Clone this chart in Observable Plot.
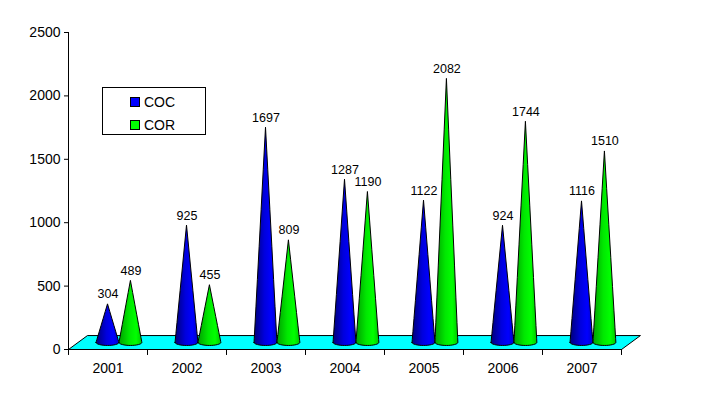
<!DOCTYPE html>
<html>
<head>
<meta charset="utf-8">
<script src="https://cdn.jsdelivr.net/npm/d3@7"></script>
<script src="https://cdn.jsdelivr.net/npm/@observablehq/plot@0.6"></script>
<style>
  html, body { margin: 0; padding: 0; background: #fff; }
  #wrap { position: relative; width: 722px; height: 397px; font-family: "Liberation Sans", Arial, sans-serif; }
  #legend { position: absolute; left: 102px; top: 87px; width: 102px; height: 46px; border: 1px solid #000; background: #fff; font-size: 14px; }
  .item { position: absolute; left: 27px; height: 16px; line-height: 16px; display: flex; align-items: center; }
  .sw { width: 8px; height: 8px; border: 1px solid #000; margin-right: 4px; }
</style>
</head>
<body>
<div id="wrap"></div>
<script>
const years = ["2001", "2002", "2003", "2004", "2005", "2006", "2007"];
const coc = [304, 925, 1697, 1287, 1122, 924, 1116];
const cor = [489, 455, 809, 1190, 2082, 1744, 1510];
const seriesNames = ["COC", "COR"];
const seriesColors = ["#0000ff", "#00ff00"];
const yTicks = [0, 500, 1000, 1500, 2000, 2500];

// shape parameters (in scale units)
const depth = 52;      // 3D depth lift of the cone base
const halfW = 0.145;   // cone half width in category units
const ry = 24;         // ellipse vertical radius of cone base
const seriesOffset = [0, 0.29];
const seriesValues = [coc, cor];
const gradIds = ["gradBlue", "gradGreen"];

function conePoints(i, v, s) {
  const cx = i + 0.5 + seriesOffset[s];
  const N = 16, pts = [];
  for (let k = 0; k <= N; k++) {
    const t = Math.PI * k / N;
    const x = cx - halfW * Math.cos(t);
    const frac = 1 - Math.abs(x - cx) / halfW;
    pts.push({id: s + "-" + i, x, y1: depth - ry * Math.sin(t), y2: depth + v * Math.max(0, frac)});
  }
  return pts;
}

const coneData = seriesNames.map((name, s) => seriesValues[s].flatMap((v, i) => conePoints(i, v, s)));
const labelData = seriesNames.flatMap((name, s) =>
  seriesValues[s].map((v, i) => ({x: i + 0.5 + seriesOffset[s], y: v + depth, label: String(v)})));

// floor parallelogram
const floorDepthX = 0.24, floorDepthY = 110;
const floor = [
  {x: 0, y: 0}, {x: years.length, y: 0},
  {x: years.length + floorDepthX, y: floorDepthY}, {x: floorDepthX, y: floorDepthY}, {x: 0, y: 0}
];

const plot = Plot.plot({
  width: 722,
  height: 397,
  marginLeft: 68,
  marginRight: 101,
  marginTop: 32,
  marginBottom: 48,
  style: {fontFamily: "Liberation Sans, Arial, sans-serif", fontSize: "14px", background: "#fff", overflow: "visible"},
  x: {
    type: "linear",
    domain: [0, years.length],
    ticks: years.map((d, i) => i + 0.5),
    tickFormat: d => years[Math.round(d - 0.5)],
    tickSize: 0,
    tickPadding: 14,
    label: null
  },
  y: {
    domain: [0, 2500],
    ticks: yTicks,
    tickSize: 4,
    tickPadding: 4,
    tickFormat: d => String(d),
    label: null
  },
  marks: [
    Plot.line(floor, {x: "x", y: "y", fill: "#00ffff", stroke: "#000", strokeWidth: 1}),
    Plot.ruleX([0], {stroke: "#000"}),
    Plot.ruleY([0], {stroke: "#000"}),
    Plot.ruleX(d3.range(years.length + 1), {y1: 0, y2: -47, stroke: "#000"}),
    ...coneData.map((data, s) => Plot.area(data, {
      x1: "x", y1: "y1", y2: "y2", z: "id",
      fill: `url(#${gradIds[s]})`, stroke: "#000", strokeWidth: 1, strokeLinejoin: "round"
    })),
    Plot.text(labelData, {x: "x", y: "y", text: "label", dy: -10, fontSize: 12.5, fill: "#000"})
  ]
});

plot.insertAdjacentHTML("afterbegin", `
<defs>
  <linearGradient id="gradBlue" x1="0" x2="1" y1="0" y2="0">
    <stop offset="0" stop-color="#000078"/>
    <stop offset="0.45" stop-color="#0000dd"/>
    <stop offset="0.75" stop-color="#0000ff"/>
    <stop offset="1" stop-color="#0000c8"/>
  </linearGradient>
  <linearGradient id="gradGreen" x1="0" x2="1" y1="0" y2="0">
    <stop offset="0" stop-color="#00a000"/>
    <stop offset="0.45" stop-color="#00e800"/>
    <stop offset="0.75" stop-color="#00ff00"/>
    <stop offset="1" stop-color="#00c800"/>
  </linearGradient>
</defs>`);

const wrap = document.getElementById("wrap");
wrap.appendChild(plot);

const legend = document.createElement("div");
legend.id = "legend";
seriesNames.forEach((name, s) => {
  const item = document.createElement("div");
  item.className = "item";
  item.style.top = (6 + s * 23) + "px";
  const sw = document.createElement("span");
  sw.className = "sw";
  sw.style.background = seriesColors[s];
  const t = document.createElement("span");
  t.textContent = name;
  item.appendChild(sw);
  item.appendChild(t);
  legend.appendChild(item);
});
wrap.appendChild(legend);
</script>
</body>
</html>
